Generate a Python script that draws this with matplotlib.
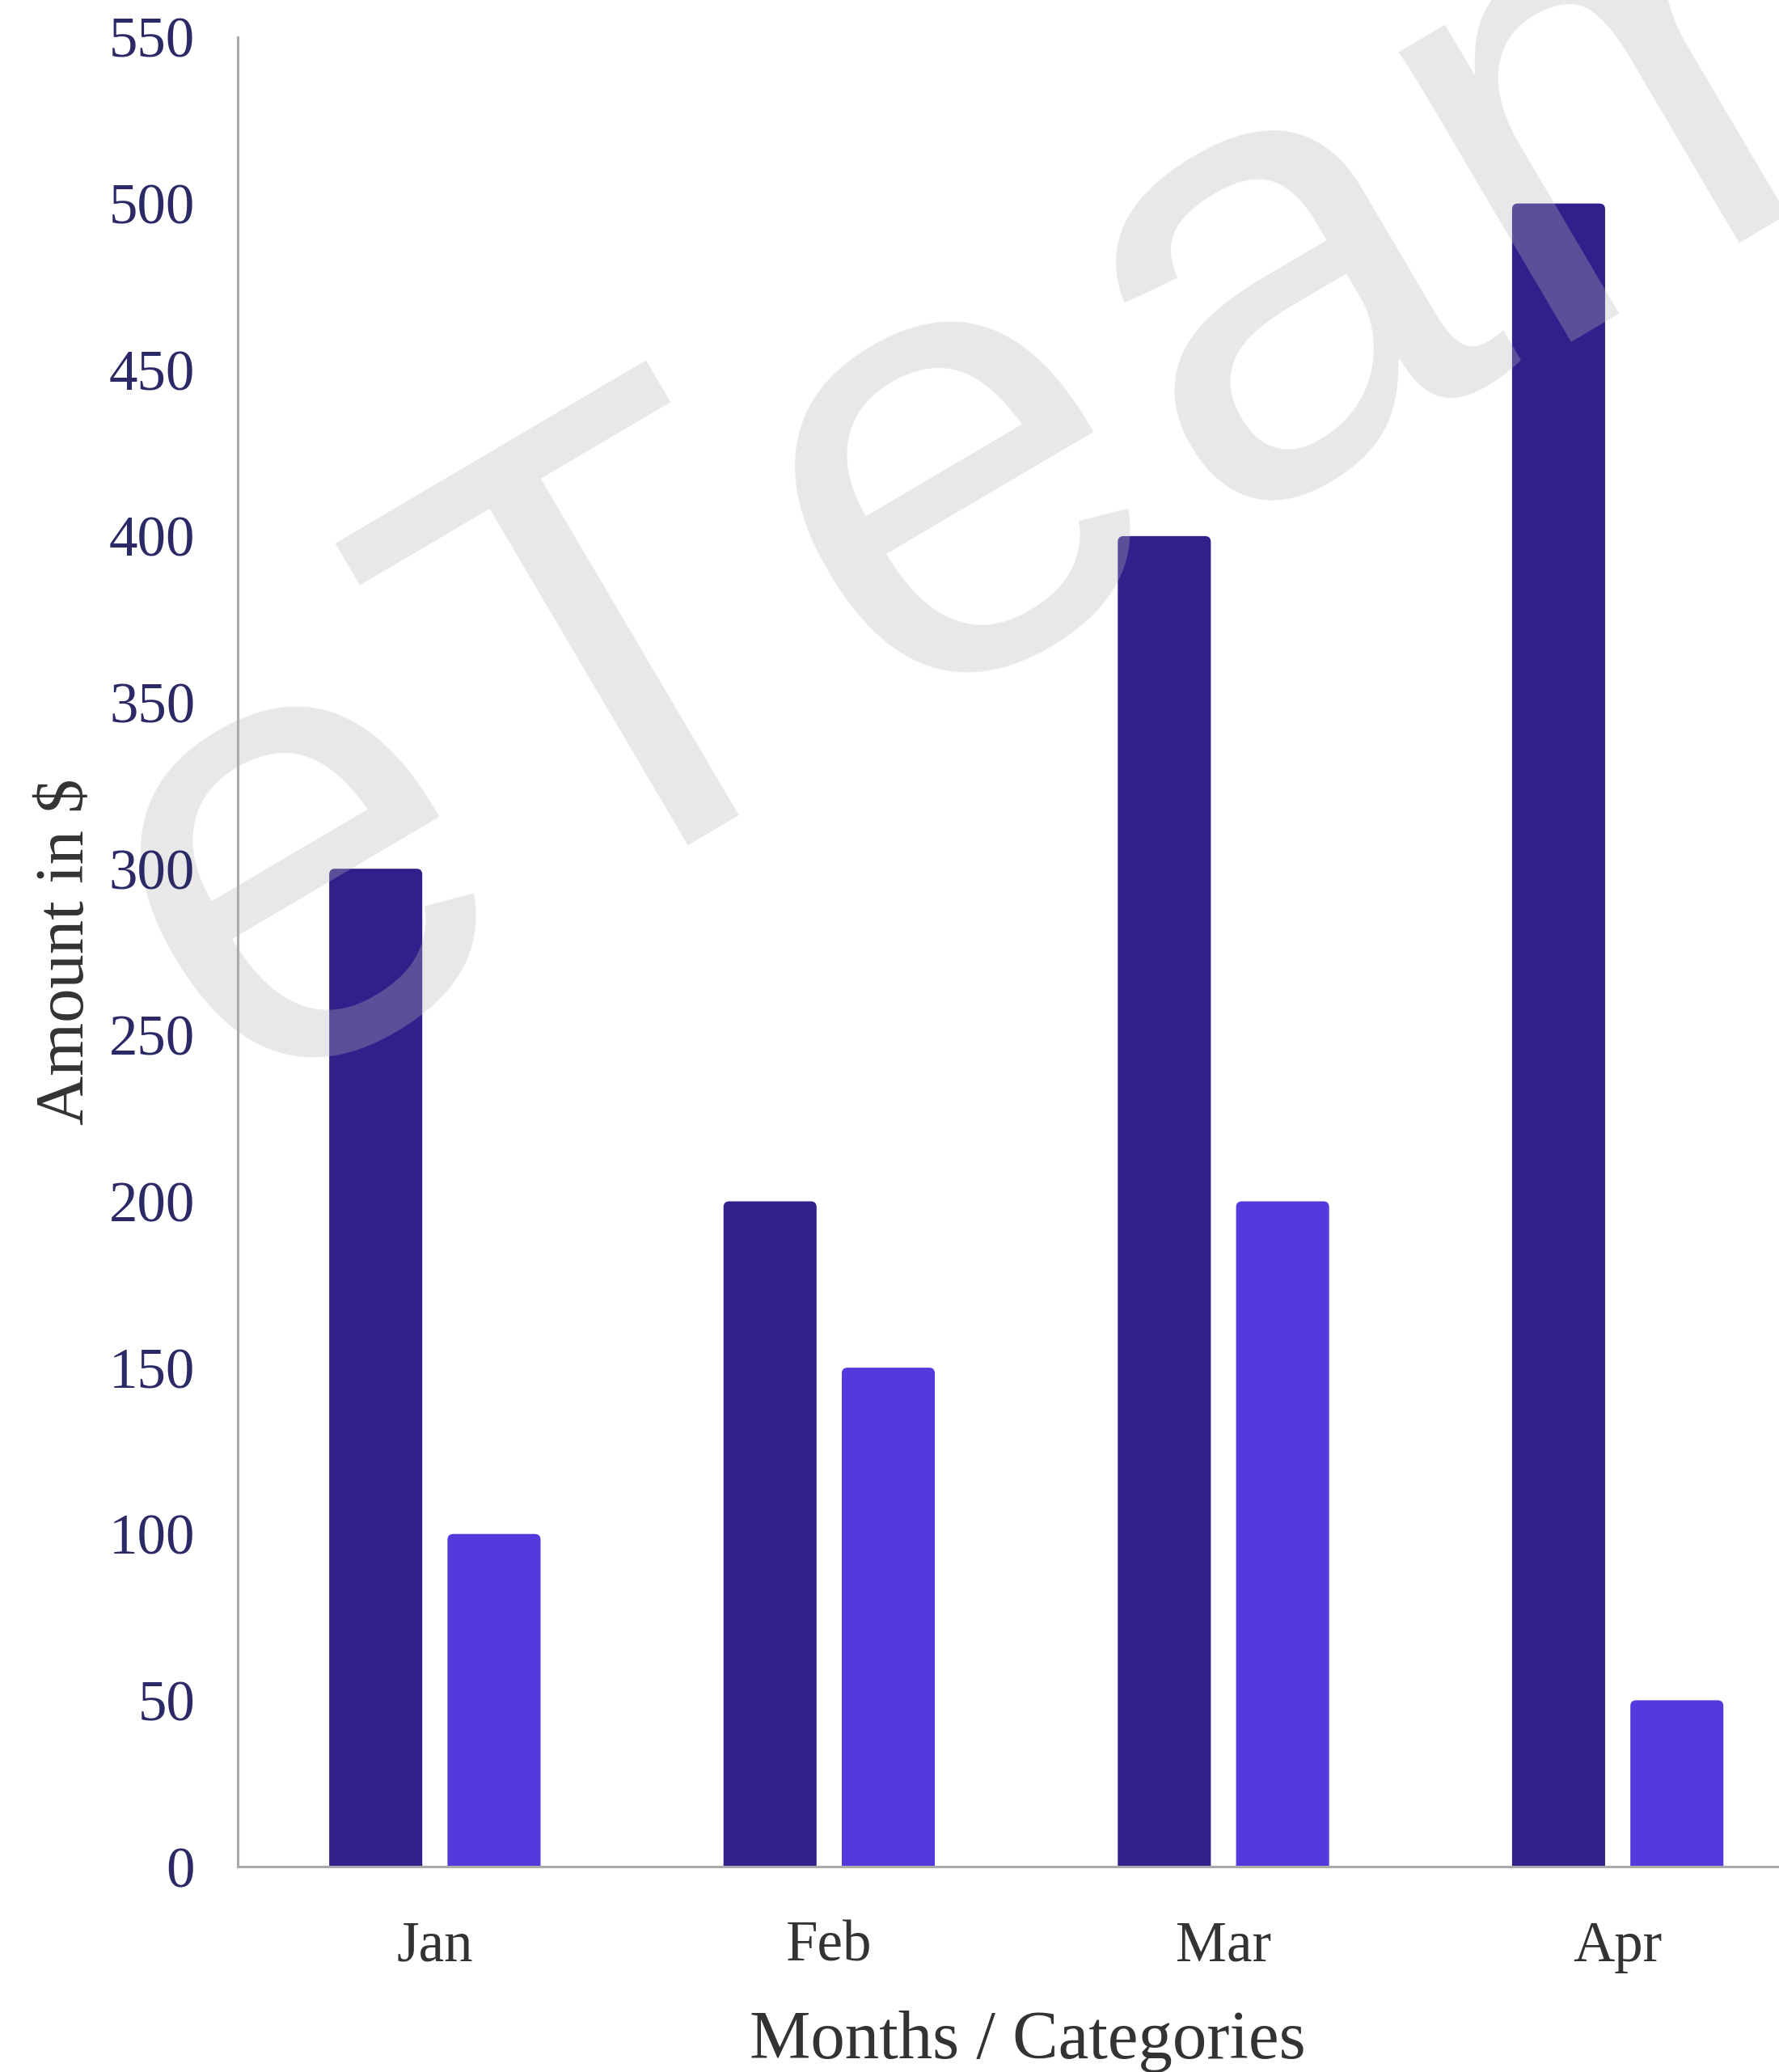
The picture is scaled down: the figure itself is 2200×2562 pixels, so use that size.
import math
import matplotlib
matplotlib.use("Agg")
import matplotlib.pyplot as plt
from matplotlib.patches import FancyBboxPatch

# Data
months = ["Jan", "Feb", "Mar", "Apr"]
series_a = [300, 200, 400, 500]
series_b = [100, 150, 200, 50]
y_ticks = [0, 50, 100, 150, 200, 250, 300, 350, 400, 450, 500, 550]

color_a = "#311f8c"
color_b = "#5539dc"
tick_color_y = "#2b2a66"
text_color = "#333333"

plt.rcParams["font.family"] = ["Liberation Serif", "DejaVu Serif"]

W, H, DPI = 2200, 2562, 200
fig = plt.figure(figsize=(W / DPI, H / DPI), dpi=DPI)
ax = fig.add_axes([0.13364, 0.09914, 0.86636, 0.88291])
ax.set_xlim(-0.5, 3.409)
ax.set_ylim(0, 550)

bar_w = 0.236
offset = 0.15
x = list(range(len(months)))

bars_a = ax.bar([i - offset for i in x], series_a, width=bar_w, color=color_a, zorder=2)
bars_b = ax.bar([i + offset for i in x], series_b, width=bar_w, color=color_b, zorder=2)

# Swap plain rectangles for ones with softly rounded top corners
fig.canvas.draw()
bb = ax.get_window_extent()
xr = ax.get_xlim()[1] - ax.get_xlim()[0]
yr = ax.get_ylim()[1] - ax.get_ylim()[0]
aspect = (yr / bb.height) / (xr / bb.width)
rad = 0.0145
for container in (bars_a, bars_b):
    for rect in container:
        rx, ry = rect.get_x(), rect.get_y()
        rw, rh = rect.get_width(), rect.get_height()
        rect.set_visible(False)
        p = FancyBboxPatch((rx, ry - rad * aspect), rw, rh + rad * aspect,
                           boxstyle=f"round,pad=0,rounding_size={rad}",
                           mutation_aspect=aspect,
                           facecolor=rect.get_facecolor(), edgecolor="none",
                           zorder=2)
        ax.add_patch(p)

ax.set_xticks(x)
ax.set_xticklabels(months)
ax.set_yticks(y_ticks)
ax.tick_params(axis="both", length=0)
ax.tick_params(axis="y", pad=19, labelsize=25.5, labelcolor=tick_color_y)
ax.tick_params(axis="x", pad=24, labelsize=25.5, labelcolor=text_color)

for s in ("top", "right"):
    ax.spines[s].set_visible(False)
for s in ("left", "bottom"):
    ax.spines[s].set_color("#ababab")
    ax.spines[s].set_linewidth(1.1)
ax.set_axisbelow(False)

ax.set_xlabel("Months / Categories", fontsize=30.5, color=text_color)
ax.xaxis.set_label_coords(0.5126, -0.0787)
ax.set_ylabel("Amount in $", fontsize=30.5, color=text_color)
ax.yaxis.set_label_coords(-0.0908, 0.5)

# Watermark: letters set along a tilted baseline with loose tracking
wm_letters = ["e", "T", "e", "a", "m"]
wm_steps_em = [-0.59, 0.0, 0.60, 1.19, 1.90]      # letter centres along baseline
wm_size = 284                                     # points
wm_angle = 30.5
em_px = wm_size * DPI / 72
anchor_px = (880, 1018)                           # baseline centre of the "T"
ca, sa = math.cos(math.radians(wm_angle)), math.sin(math.radians(wm_angle))
for ch, step in zip(wm_letters, wm_steps_em):
    px = anchor_px[0] + step * em_px * ca
    py = anchor_px[1] - step * em_px * sa
    ax.text(px / W, 1 - py / H, ch, transform=fig.transFigure,
            fontsize=wm_size, family="Liberation Sans", color=(0.72, 0.72, 0.72),
            alpha=0.32, rotation=wm_angle, rotation_mode="anchor",
            ha="center", va="baseline", zorder=2.2, clip_on=False)

fig.savefig("out.png", dpi=DPI)
